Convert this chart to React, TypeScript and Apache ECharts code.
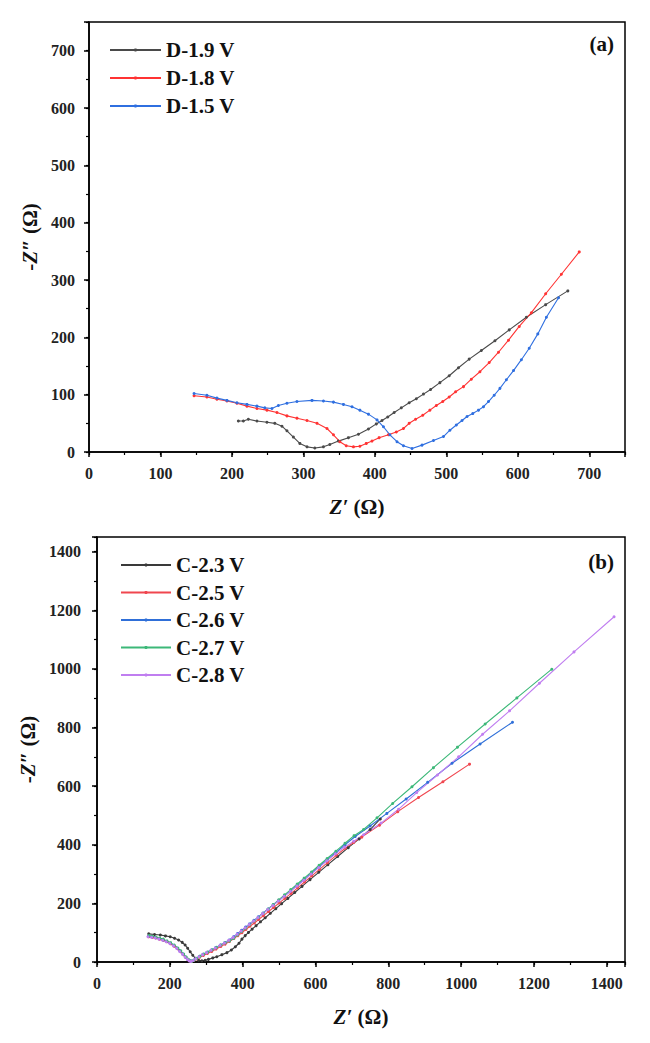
import React, { useEffect, useRef } from "react";
import * as echarts from "echarts";

const FONT = "'Liberation Serif', 'Times New Roman', serif";

// ---------- Panel (a) ----------
const topNames = ["D-1.9 V", "D-1.8 V", "D-1.5 V"];
const topColors = ["#4a4a4a", "#ff3333", "#2f6fe0"];
const d19 = [
  [209, 54], [216, 54], [223, 57], [235, 54], [249, 52], [260, 50], [270, 45], [277, 37], [286, 26],
  [295, 15], [305, 9], [316, 7], [328, 9], [337, 13], [349, 19], [363, 25], [377, 31], [391, 40],
  [402, 49], [410, 55], [418, 61], [427, 69], [437, 77], [448, 86], [458, 93], [468, 101], [478, 109],
  [491, 121], [504, 133], [517, 147], [532, 162], [549, 177], [568, 194], [588, 213], [612, 235],
  [639, 257], [670, 281],
];
const d18 = [
  [147, 98], [165, 96], [179, 92], [193, 89], [207, 85], [221, 80], [235, 76], [249, 73], [263, 69],
  [277, 63], [291, 59], [305, 55], [319, 50], [333, 41], [342, 30], [351, 18], [360, 11], [370, 9],
  [379, 10], [388, 15], [396, 19], [406, 25], [419, 30], [430, 35], [440, 41], [448, 50], [457, 57],
  [467, 64], [477, 73], [486, 81], [495, 88], [504, 96], [513, 105], [524, 114], [535, 127], [547, 140],
  [560, 156], [573, 174], [587, 195], [602, 219], [619, 243], [639, 276], [661, 310], [686, 349],
];
const d15 = [
  [147, 102], [165, 99], [179, 94], [193, 90], [207, 86], [221, 83], [235, 80], [246, 77], [256, 76],
  [265, 81], [277, 85], [291, 88], [312, 90], [328, 89], [342, 87], [356, 83], [368, 79], [379, 73],
  [391, 66], [403, 56], [412, 44], [421, 30], [431, 18], [440, 11], [452, 6], [466, 12], [482, 20],
  [496, 27], [505, 38], [514, 47], [522, 55], [529, 62], [537, 67], [545, 73], [552, 79], [559, 88],
  [567, 99], [575, 111], [584, 126], [594, 142], [605, 161], [616, 181], [628, 206], [640, 235],
  [657, 269],
];
const topData = [d19, d18, d15];

// ---------- Panel (b) ----------
const botNames = ["C-2.3 V", "C-2.5 V", "C-2.6 V", "C-2.7 V", "C-2.8 V"];
const botColors = ["#3a3a3a", "#f0464f", "#2f6fd8", "#3cb878", "#c07ef0"];
const c23 = [
  [142, 96], [158, 94], [174, 92], [188, 89], [201, 86], [213, 81], [224, 75], [234, 67], [242, 58],
  [249, 47], [256, 35], [263, 23], [270, 13], [279, 6], [288, 4], [297, 6], [306, 9], [318, 14],
  [329, 18], [343, 25], [357, 32], [369, 41], [380, 52], [390, 64], [398, 78], [407, 90], [416, 101],
  [426, 112], [437, 124], [449, 137], [462, 151], [476, 166], [491, 182], [507, 199], [524, 217],
  [543, 237], [563, 258], [585, 281], [609, 306], [634, 332], [661, 360], [690, 390], [720, 420],
  [750, 452], [778, 488],
];
const c25 = [
  [142, 86], [152, 84], [162, 82], [172, 78], [182, 74], [192, 69], [202, 62], [212, 54], [221, 45],
  [229, 35], [237, 25], [244, 15], [250, 8], [255, 3], [260, 2], [266, 5], [273, 10], [282, 16],
  [292, 22], [303, 29], [315, 36], [327, 44], [340, 53], [352, 61], [364, 70], [376, 80], [387, 90],
  [398, 100], [409, 111], [420, 122], [432, 133], [444, 145], [457, 158], [471, 172], [485, 186],
  [500, 201], [516, 217], [533, 234], [551, 253], [570, 273], [590, 294], [611, 316], [633, 339],
  [657, 364], [682, 388], [705, 408], [727, 426], [776, 467], [826, 513], [883, 561], [950, 615],
  [1023, 675],
];
const c26 = [
  [141, 88], [151, 86], [161, 83], [171, 80], [181, 75], [191, 70], [201, 64], [211, 56], [220, 47],
  [228, 37], [236, 27], [243, 17], [249, 9], [254, 4], [259, 3], [265, 6], [272, 12], [281, 19],
  [291, 26], [302, 33], [314, 41], [326, 49], [339, 58], [351, 66], [363, 75], [375, 86], [386, 97],
  [397, 108], [408, 119], [419, 130], [431, 142], [443, 154], [456, 167], [470, 181], [484, 195],
  [499, 210], [515, 226], [532, 243], [550, 262], [569, 282], [589, 303], [610, 325], [632, 348],
  [656, 373], [681, 400], [709, 428], [750, 464], [796, 507], [849, 556], [908, 613], [975, 678],
  [1052, 744], [1141, 818],
];
const c27 = [
  [143, 90], [152, 88], [162, 85], [172, 82], [182, 78], [192, 72], [202, 66], [212, 58], [222, 48],
  [230, 38], [238, 27], [245, 17], [251, 9], [256, 4], [261, 3], [267, 7], [274, 13], [283, 20],
  [293, 27], [304, 34], [316, 42], [328, 50], [340, 58], [352, 66], [364, 72], [375, 80], [386, 92],
  [397, 104], [408, 115], [419, 127], [431, 140], [443, 152], [456, 166], [470, 181], [484, 196],
  [499, 212], [515, 229], [532, 247], [550, 266], [569, 286], [589, 307], [610, 330], [632, 353],
  [656, 378], [681, 405], [706, 431], [732, 452], [769, 492], [812, 541], [865, 598], [924, 663],
  [990, 733], [1066, 812], [1153, 901], [1249, 999],
];
const c28 = [
  [140, 86], [150, 84], [160, 82], [170, 78], [180, 74], [190, 69], [200, 63], [210, 55], [219, 46],
  [227, 36], [235, 26], [242, 16], [248, 9], [253, 4], [258, 2], [264, 5], [271, 11], [280, 18],
  [290, 25], [301, 32], [313, 40], [325, 48], [338, 57], [350, 65], [362, 74], [374, 84], [385, 95],
  [396, 106], [407, 117], [418, 128], [430, 140], [442, 152], [455, 165], [469, 179], [483, 193],
  [498, 208], [514, 224], [531, 241], [549, 259], [568, 279], [588, 300], [609, 322], [631, 345],
  [655, 369], [680, 392], [705, 412], [732, 434], [780, 474], [828, 521], [878, 578], [935, 638],
  [993, 700], [1059, 777], [1133, 857], [1215, 951], [1310, 1058], [1420, 1178],
];
const botData = [c23, c25, c26, c27, c28];

const topXMax = 750;
const topYMax = 750;
const botXMax = 1450;
const botYMax = 1450;

function mainAxis(gridIndex: number, max: number, step: number, isX: boolean, labelMargin: number, name: string, nameGap: number) {
  return {
    gridIndex,
    type: "value",
    min: 0,
    max,
    interval: step,
    position: isX ? "bottom" : "left",
    name,
    nameLocation: "middle",
    nameGap,
    nameTextStyle: {
      fontFamily: FONT,
      fontWeight: "bold",
      fontSize: 21,
      color: "#111",
      rich: {
        i: { fontFamily: FONT, fontWeight: "bold", fontStyle: "italic", fontSize: 21, color: "#111" },
      },
    },
    axisLine: { show: true, onZero: false, lineStyle: { color: "#000", width: 1.5 } },
    axisTick: { show: true, length: 5, lineStyle: { color: "#000", width: 1.5 } },
    axisLabel: {
      margin: labelMargin,
      fontFamily: FONT,
      fontWeight: "bold",
      fontSize: 16,
      color: "#222",
      formatter: (v: number) => (v % step === 0 ? String(v) : ""),
    },
    splitLine: { show: false },
  };
}

function minorAxis(gridIndex: number, max: number, step: number, isX: boolean) {
  return {
    gridIndex,
    type: "value",
    min: 0,
    max,
    interval: step,
    position: isX ? "bottom" : "left",
    axisLine: { show: false, onZero: false },
    axisTick: { show: true, length: 3, lineStyle: { color: "#000", width: 1.2 } },
    axisLabel: { show: false },
    splitLine: { show: false },
  };
}

export default function App() {
  const ref = useRef<HTMLDivElement>(null);
  useEffect(() => {
    document.body.style.margin = "0";
    const chart = echarts.init(ref.current!, null, { renderer: "svg" });

    const series: any[] = [];
    topData.forEach((d, i) => {
      series.push({
        name: topNames[i],
        type: "line",
        xAxisIndex: 0,
        yAxisIndex: 0,
        data: d,
        symbol: "circle",
        symbolSize: 3,
        showSymbol: true,
        color: topColors[i],
        lineStyle: { width: 1.1, color: topColors[i] },
        itemStyle: { color: topColors[i] },
      });
    });
    botData.forEach((d, i) => {
      series.push({
        name: botNames[i],
        type: "line",
        xAxisIndex: 2,
        yAxisIndex: 2,
        data: d,
        symbol: "circle",
        symbolSize: 3,
        showSymbol: true,
        color: botColors[i],
        lineStyle: { width: 1.1, color: botColors[i] },
        itemStyle: { color: botColors[i] },
      });
    });

    const legendText = { fontFamily: FONT, fontWeight: "bold", fontSize: 21, color: "#111", lineHeight: 22 };

    chart.setOption({
      animation: false,
      backgroundColor: "#fff",
      grid: [
        { left: 89, top: 22, width: 536, height: 430, show: true, borderColor: "#000", borderWidth: 1.5, backgroundColor: "transparent" },
        { left: 97, top: 537, width: 528, height: 425, show: true, borderColor: "#000", borderWidth: 1.5, backgroundColor: "transparent" },
      ],
      xAxis: [
        mainAxis(0, topXMax, 100, true, 13, "{i|Z′} (Ω)", 44),
        minorAxis(0, topXMax, 50, true),
        mainAxis(1, botXMax, 200, true, 13, "{i|Z′} (Ω)", 44),
        minorAxis(1, botXMax, 100, true),
      ],
      yAxis: [
        mainAxis(0, topYMax, 100, false, 14, "-{i|Z″} (Ω)", 46),
        minorAxis(0, topYMax, 50, false),
        mainAxis(1, botYMax, 200, false, 16, "-{i|Z″} (Ω)", 47),
        minorAxis(1, botYMax, 100, false),
      ],
      legend: [
        {
          data: topNames,
          orient: "vertical",
          left: 109,
          top: 39,
          padding: 0,
          itemWidth: 51,
          itemHeight: 4,
          itemGap: 6,
          textStyle: legendText,
        },
        {
          data: botNames,
          orient: "vertical",
          left: 120,
          top: 554,
          padding: 0,
          itemWidth: 50,
          itemHeight: 4,
          itemGap: 5.5,
          textStyle: legendText,
        },
      ],
      graphic: [
        { type: "text", right: 36, top: 33, style: { text: "(a)", font: `bold 21px ${FONT}`, fill: "#111" } },
        { type: "text", right: 36, top: 551, style: { text: "(b)", font: `bold 21px ${FONT}`, fill: "#111" } },
      ],
      series,
    });
    return () => chart.dispose();
  }, []);
  return <div ref={ref} style={{ width: 650, height: 1043 }} />;
}
